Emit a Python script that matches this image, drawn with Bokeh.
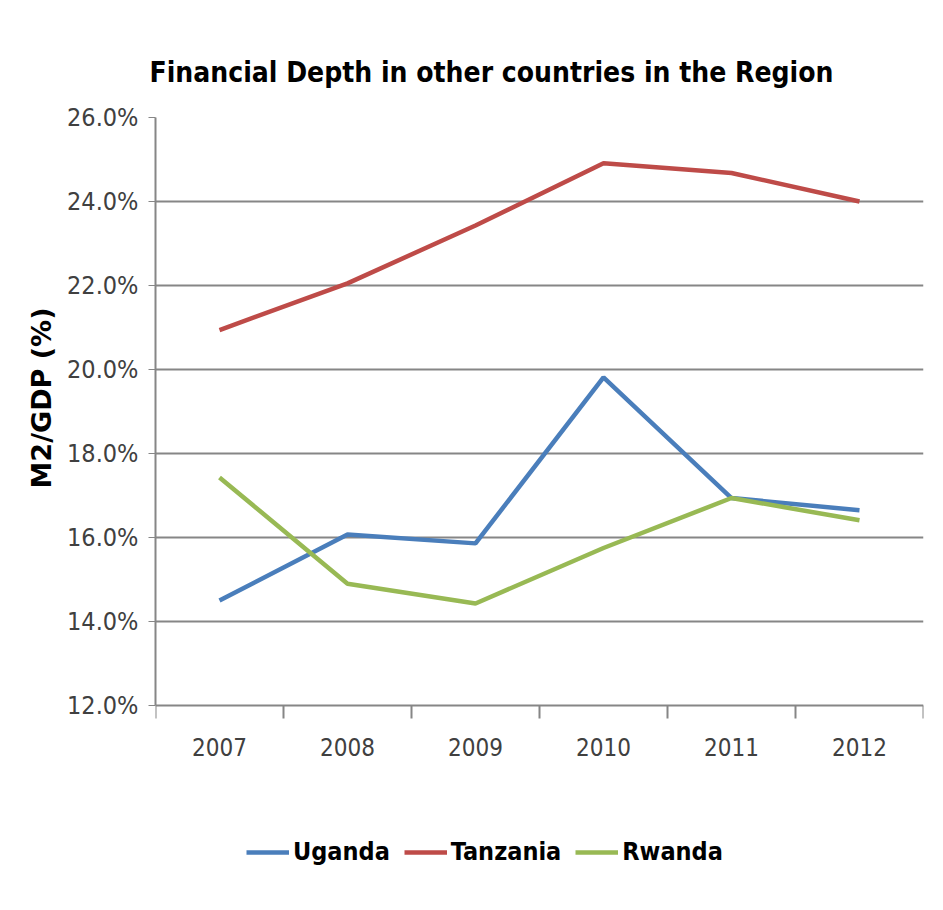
from bokeh.plotting import figure
from bokeh.models import Range1d, FixedTicker, PrintfTickFormatter, Legend, LegendItem, Title
from bokeh.embed import file_html
from bokeh.resources import INLINE

# ---- data ----
years = ["2007", "2008", "2009", "2010", "2011", "2012"]
uganda = [14.50, 16.07, 15.86, 19.81, 16.94, 16.65]
tanzania = [20.94, 22.05, 23.43, 24.91, 24.68, 24.00]
rwanda = [17.43, 14.90, 14.43, 15.75, 16.94, 16.41]
y_ticks = [12, 14, 16, 18, 20, 22, 24, 26]

series_names = ["Uganda", "Tanzania", "Rwanda"]
series_colors = ["#4a7ebb", "#be4b48", "#98b954"]

xs = [i + 0.5 for i in range(len(years))]
bounds = list(range(len(years) + 1))

# ---- layout (pixels) ----
W, H = 940, 906
FRAME_L, FRAME_R, FRAME_T, FRAME_B = 155, 923, 117, 890
AXIS_Y = 705  # where the value axis bottom (12%) sits
y_lo = y_ticks[-1] - (y_ticks[-1] - y_ticks[0]) * (FRAME_B - FRAME_T) / (AXIS_Y - FRAME_T)

NARROW = "DejaVu Sans Condensed, Liberation Sans, sans-serif"

p = figure(width=W, height=H, output_backend="svg", toolbar_location=None,
           x_range=Range1d(0, len(years)), y_range=Range1d(y_lo, y_ticks[-1]),
           min_border_left=FRAME_L, min_border_right=W - FRAME_R,
           min_border_top=FRAME_T, min_border_bottom=H - FRAME_B,
           title="Financial Depth in other countries in the Region")
p.outline_line_color = None
p.background_fill_color = "white"
p.border_fill_color = "white"

p.title.text_font = NARROW
p.title.text_font_size = "28px"
p.title.text_font_style = "bold"
p.title.text_color = "black"
p.title.align = "left"
p.title.offset = -6
p.title.standoff = 58

# y axis
p.yaxis.ticker = FixedTicker(ticks=y_ticks)
p.yaxis.bounds = (y_ticks[0], y_ticks[-1])
p.yaxis.formatter = PrintfTickFormatter(format="%.1f%%")
p.yaxis.major_label_text_font = NARROW
p.yaxis.major_label_text_font_size = "25px"
p.yaxis.major_label_text_color = "#404040"
p.yaxis.major_tick_out = 7
p.yaxis.major_tick_in = 0
p.yaxis.minor_tick_line_color = None
p.yaxis.major_tick_line_color = "#868686"
p.yaxis.axis_line_color = "#868686"
p.yaxis.axis_line_width = 2
p.yaxis.major_label_standoff = 10

ylab = Title(text="M2/GDP (%)", align="left", offset=FRAME_B - 488, standoff=16,
             text_font="DejaVu Sans", text_font_style="bold", text_font_size="27px",
             text_color="black")
p.add_layout(ylab, "left")

# x axis: fixed at 12%, labels at category centres, tick marks at category boundaries
p.xaxis.fixed_location = y_ticks[0]
p.xaxis.ticker = FixedTicker(ticks=xs, minor_ticks=bounds)
p.xaxis.major_label_overrides = {x: y for x, y in zip(xs, years)}
p.xaxis.major_tick_line_color = None
p.xaxis.major_tick_out = 0
p.xaxis.major_tick_in = 0
p.xaxis.minor_tick_line_color = "#868686"
p.xaxis.minor_tick_out = 13
p.xaxis.minor_tick_in = 0
p.xaxis.minor_tick_line_width = 2
p.xaxis.axis_line_color = "#868686"
p.xaxis.axis_line_width = 2
p.xaxis.major_label_text_font = NARROW
p.xaxis.major_label_text_font_size = "24px"
p.xaxis.major_label_text_color = "#404040"
p.xaxis.major_label_standoff = 19

p.xgrid.grid_line_color = None
p.ygrid.ticker = FixedTicker(ticks=y_ticks[1:])
p.ygrid.grid_line_color = "#868686"
p.ygrid.grid_line_width = 2

items = []
for name, vals, col in zip(series_names, [uganda, tanzania, rwanda], series_colors):
    r = p.line(xs, vals, line_color=col, line_width=4.5)
    items.append(LegendItem(label=name, renderers=[r]))

legend = Legend(items=items, orientation="horizontal", location=(91, 24))
legend.label_text_font = NARROW
legend.label_text_font_size = "25px"
legend.label_text_font_style = "bold"
legend.label_text_color = "black"
legend.glyph_width = 43
legend.label_standoff = 4
legend.spacing = 14
legend.border_line_color = None
legend.background_fill_alpha = 0
p.add_layout(legend, "center")

open("out.html", "w").write(file_html(p, INLINE))
